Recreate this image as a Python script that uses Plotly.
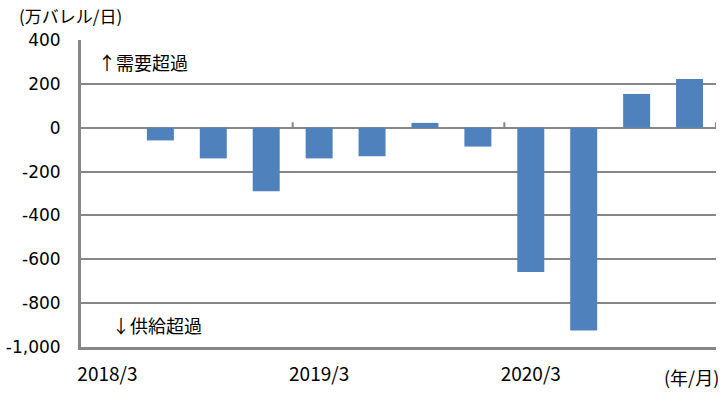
import plotly.graph_objects as go

categories = ["2018/3", "2018/6", "2018/9", "2018/12",
              "2019/3", "2019/6", "2019/9", "2019/12",
              "2020/3", "2020/6", "2020/9", "2020/12"]
balance = [None, -58, -140, -290, -140, -130, 22, -86, -658, -925, 154, 222]

x_tick_labels = ["2018/3", "2019/3", "2020/3"]
y_tick_vals = [400, 200, 0, -200, -400, -600, -800, -1000]
y_tick_text = ["400", "200", "0", "-200", "-400", "-600", "-800", "-1,000"]
year_boundaries = [3.5, 7.5, 11.5]

GRAY = "#878787"
BLUE = "#4F81BD"
NUM_FONT = "DejaVu Sans"
JP_FONT = "Noto Sans CJK JP"

W, H = 724, 394
L, R, T, B = 81, 8, 40, 47
PW, PH = W - L - R, H - T - B
OX, OY = L, T + PH  # screen position of plot-area bottom-left


def px(X):
    return (X - OX) / PW


def py(Y):
    return (OY - Y) / PH


fig = go.Figure()
fig.add_trace(go.Bar(x=categories, y=balance, marker=dict(color=BLUE, line=dict(width=0)),
                     hoverinfo="x+y"))

fig.update_layout(
    width=W, height=H,
    margin=dict(l=L, r=R, t=T, b=B, autoexpand=False),
    paper_bgcolor="white", plot_bgcolor="white",
    bargap=0.49, showlegend=False,
    font=dict(family=NUM_FONT, size=16, color="#000000"),
)
fig.update_xaxes(
    type="category", categoryorder="array", categoryarray=categories,
    range=[-0.5, len(categories) - 0.5],
    tickmode="array", tickvals=x_tick_labels, ticktext=x_tick_labels,
    ticks="outside", ticklen=8, tickcolor="rgba(0,0,0,0)",
    tickfont=dict(family=JP_FONT, size=19),
    showline=True, linecolor=GRAY, linewidth=3, showgrid=False, zeroline=False,
)
fig.update_yaxes(
    range=[-1000, 400], tickmode="array", tickvals=y_tick_vals, ticktext=y_tick_text,
    showgrid=True, gridcolor=GRAY, gridwidth=2,
    zeroline=True, zerolinecolor=GRAY, zerolinewidth=2,
    showline=True, linecolor=GRAY, linewidth=3,
    ticks="outside", ticklen=14, tickcolor="rgba(0,0,0,0)",
    tickfont=dict(family=NUM_FONT, size=17),
)

for xb in year_boundaries:
    fig.add_shape(type="line", xref="x", yref="y", x0=xb, x1=xb, y0=0, y1=25,
                  line=dict(color=GRAY, width=2))

fig.add_annotation(text="(万バレル/日)", xref="paper", yref="paper", x=px(17), y=py(16),
                   xanchor="left", yanchor="middle", showarrow=False,
                   font=dict(family=JP_FONT, size=17))
fig.add_annotation(text="↑需要超過", xref="paper", yref="paper", x=px(96), y=py(62),
                   xanchor="left", yanchor="middle", showarrow=False,
                   font=dict(family=JP_FONT, size=18))
fig.add_annotation(text="↓供給超過", xref="paper", yref="paper", x=px(110), y=py(325),
                   xanchor="left", yanchor="middle", showarrow=False,
                   font=dict(family=JP_FONT, size=18))
fig.add_annotation(text="(年/月)", xref="paper", yref="paper", x=px(721), y=py(377),
                   xanchor="right", yanchor="middle", showarrow=False,
                   font=dict(family=JP_FONT, size=18))

fig.write_html("out.html", config={"displayModeBar": False},
               post_script="document.body.style.margin='0';document.body.style.overflow='hidden';")
